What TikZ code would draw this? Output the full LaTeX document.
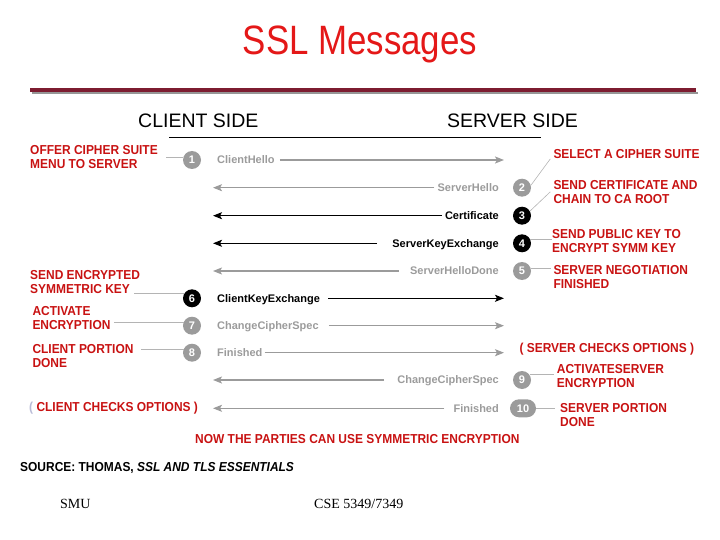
\documentclass[tikz,border=0pt]{standalone}
\usepackage{fontspec}
\setmainfont{Liberation Sans}
\newfontfamily\titlefont[FakeStretch=0.85]{Liberation Sans}
\newfontfamily\notefont[FakeStretch=0.92]{Liberation Sans}
\newfontfamily\slidefont{Liberation Serif}
\usetikzlibrary{arrows.meta}
\definecolor{notered}{RGB}{200,18,18}
\definecolor{titlered}{RGB}{228,24,24}
\definecolor{msggray}{RGB}{155,155,155}
\definecolor{tiegray}{RGB}{180,180,180}
\definecolor{barmaroon}{RGB}{125,28,48}
\definecolor{bargray}{RGB}{150,150,150}
\definecolor{parenblue}{RGB}{185,188,215}
\begin{document}
\begin{tikzpicture}[x=1pt,y=-1pt,
    note/.style={inner sep=0pt,anchor=north west,align=left,text=notered,font={\notefont\bfseries\fontsize{13}{14}\selectfont}},
    msg/.style={inner xsep=5pt,inner ysep=0pt,text height=7.8pt,text depth=0pt,font={\bfseries\fontsize{11}{12}\selectfont}},
    num/.style={circle,fill=#1,text=white,minimum size=18pt,inner sep=0pt,font={\bfseries\fontsize{11}{12}\selectfont}},
    flow/.style={line width=1.2pt,-{Stealth[length=9pt,width=7pt,inset=2pt]}},
    tie/.style={draw=tiegray,line width=0.6pt}]
    \useasboundingbox (0,0) rectangle (720,540);
    % title and header bar
    \node [anchor=base,text=titlered,font={\titlefont\fontsize{41}{48}\selectfont}] (title) at (360,55) {SSL Messages};
    \draw [bargray,line width=2pt] (32,93) -- (698,93);
    \draw [barmaroon,line width=3.5pt] (30,90) -- (696,90);
    \node [anchor=base west,inner sep=0pt,font={\fontsize{19.5}{22}\selectfont}] (client) at (138,127.5) {CLIENT SIDE};
    \node [anchor=base west,inner sep=0pt,font={\fontsize{19.5}{22}\selectfont}] (server) at (447,127.5) {SERVER SIDE};
    \path (169.3,137.3) coordinate (RL) (541,137.3) coordinate (RR);
    \draw [line width=1pt] (RL) -- (RR);
    % client to server
    \foreach \n/\y/\col/\g/\txt in {1/160/msggray/0/ClientHello,6/298.3/black/3/ClientKeyExchange,7/325.7/msggray/5/ChangeCipherSpec,8/352.7/msggray/-3/Finished} {
        \node [num=\col] (c\n) at (192,\y) {\n};
        \node [msg,text=\col,anchor=west] (m\n) at (212,\y) {\txt};
        \coordinate (r\n) at (504,\y);
        \draw [flow,draw=\col,shorten <=\g pt] (m\n) -- (r\n);
    }
    % server to client
    \foreach \n/\y/\col/\g/\txt in {2/187.7/msggray/-2/ServerHello,3/215.7/black/-2/Certificate,4/243.3/black/10/ServerKeyExchange,5/271/msggray/6/ServerHelloDone,9/380/msggray/8/ChangeCipherSpec,10/408.3/msggray/4/Finished} {
        \node [msg,text=\col,anchor=east] (m\n) at (504,\y) {\txt};
        \coordinate (l\n) at (213,\y);
        \draw [flow,draw=\col,shorten <=\g pt] (m\n) -- (l\n);
    }
    \foreach \n/\y/\col in {2/187.7/msggray,3/215.7/black,4/243.3/black,5/271/msggray,9/380/msggray}
        \node [num=\col] (c\n) at (522,\y) {\n};
    \node [num=msggray,rectangle,rounded corners=9pt,minimum width=26pt] (c10) at (523,408.3) {10};
    % client notes
    \node [note] (n1) at (30,145) {OFFER CIPHER SUITE\\MENU TO SERVER};
    \node [note] (n6) at (30,270) {SEND ENCRYPTED\\SYMMETRIC KEY};
    \node [note] (n7) at (32.3,306.7) {ACTIVATE\\ENCRYPTION};
    \node [note] (n8) at (32.3,344.3) {CLIENT PORTION\\DONE};
    \node [note] (ncli) at (29,401.7) {\textcolor{parenblue}{(}~CLIENT CHECKS OPTIONS~)};
    \draw [tie] (c1.160) -- ([xshift=8pt]c1.160 -| n1.east);
    \draw [tie] (c6.145) -- ([xshift=-6pt]c6.145 -| n6.east);
    \draw [tie] (c7.155) -- ([xshift=3pt]c7.155 -| n7.east);
    \draw [tie] (c8.155) -- ([xshift=7pt]c8.155 -| n8.east);
    % server notes
    \node [note] (n2) at (553.3,149.3) {SELECT A CIPHER SUITE};
    \node [note] (n3) at (553.3,180) {SEND CERTIFICATE AND\\CHAIN TO CA ROOT};
    \node [note] (n4) at (552,229) {SEND PUBLIC KEY TO\\ENCRYPT SYMM KEY};
    \node [note] (n5) at (553.3,265) {SERVER NEGOTIATION\\FINISHED};
    \node [note] (nsrv) at (519.3,342.7) {( SERVER CHECKS OPTIONS )};
    \node [note] (n9) at (556.7,364.3) {ACTIVATESERVER\\ENCRYPTION};
    \node [note] (n10) at (560,403.3) {SERVER PORTION\\DONE};
    \draw [tie] (c2.15) -- ([xshift=-3pt]n2.south west);
    \draw [tie] (c3.30) -- ([xshift=-3pt]n3.west);
    \draw [tie] (c4.25) -- (c4.25 -| n4.west);
    \draw [tie] (c5.20) -- ([xshift=-2pt]c5.20 -| n5.west);
    \draw [tie] (c9.35) -- ([xshift=-3pt]c9.35 -| n9.west);
    \draw [tie] (c10.east) -- ([xshift=-5pt]c10.east -| n10.west);
    % footer
    \node [note] (nnow) at (195,434) {NOW THE PARTIES CAN USE SYMMETRIC ENCRYPTION};
    \node [note,text=black] (source) at (20,462.5) {SOURCE: THOMAS, \textit{SSL AND TLS ESSENTIALS}};
    \node [anchor=base west,inner sep=0pt,font={\slidefont\fontsize{14}{16}\selectfont}] (smu) at (60,508) {SMU};
    \node [anchor=base west,inner sep=0pt,font={\slidefont\fontsize{14}{16}\selectfont}] (cse) at (314,508) {CSE 5349/7349};
\end{tikzpicture}
\end{document}
